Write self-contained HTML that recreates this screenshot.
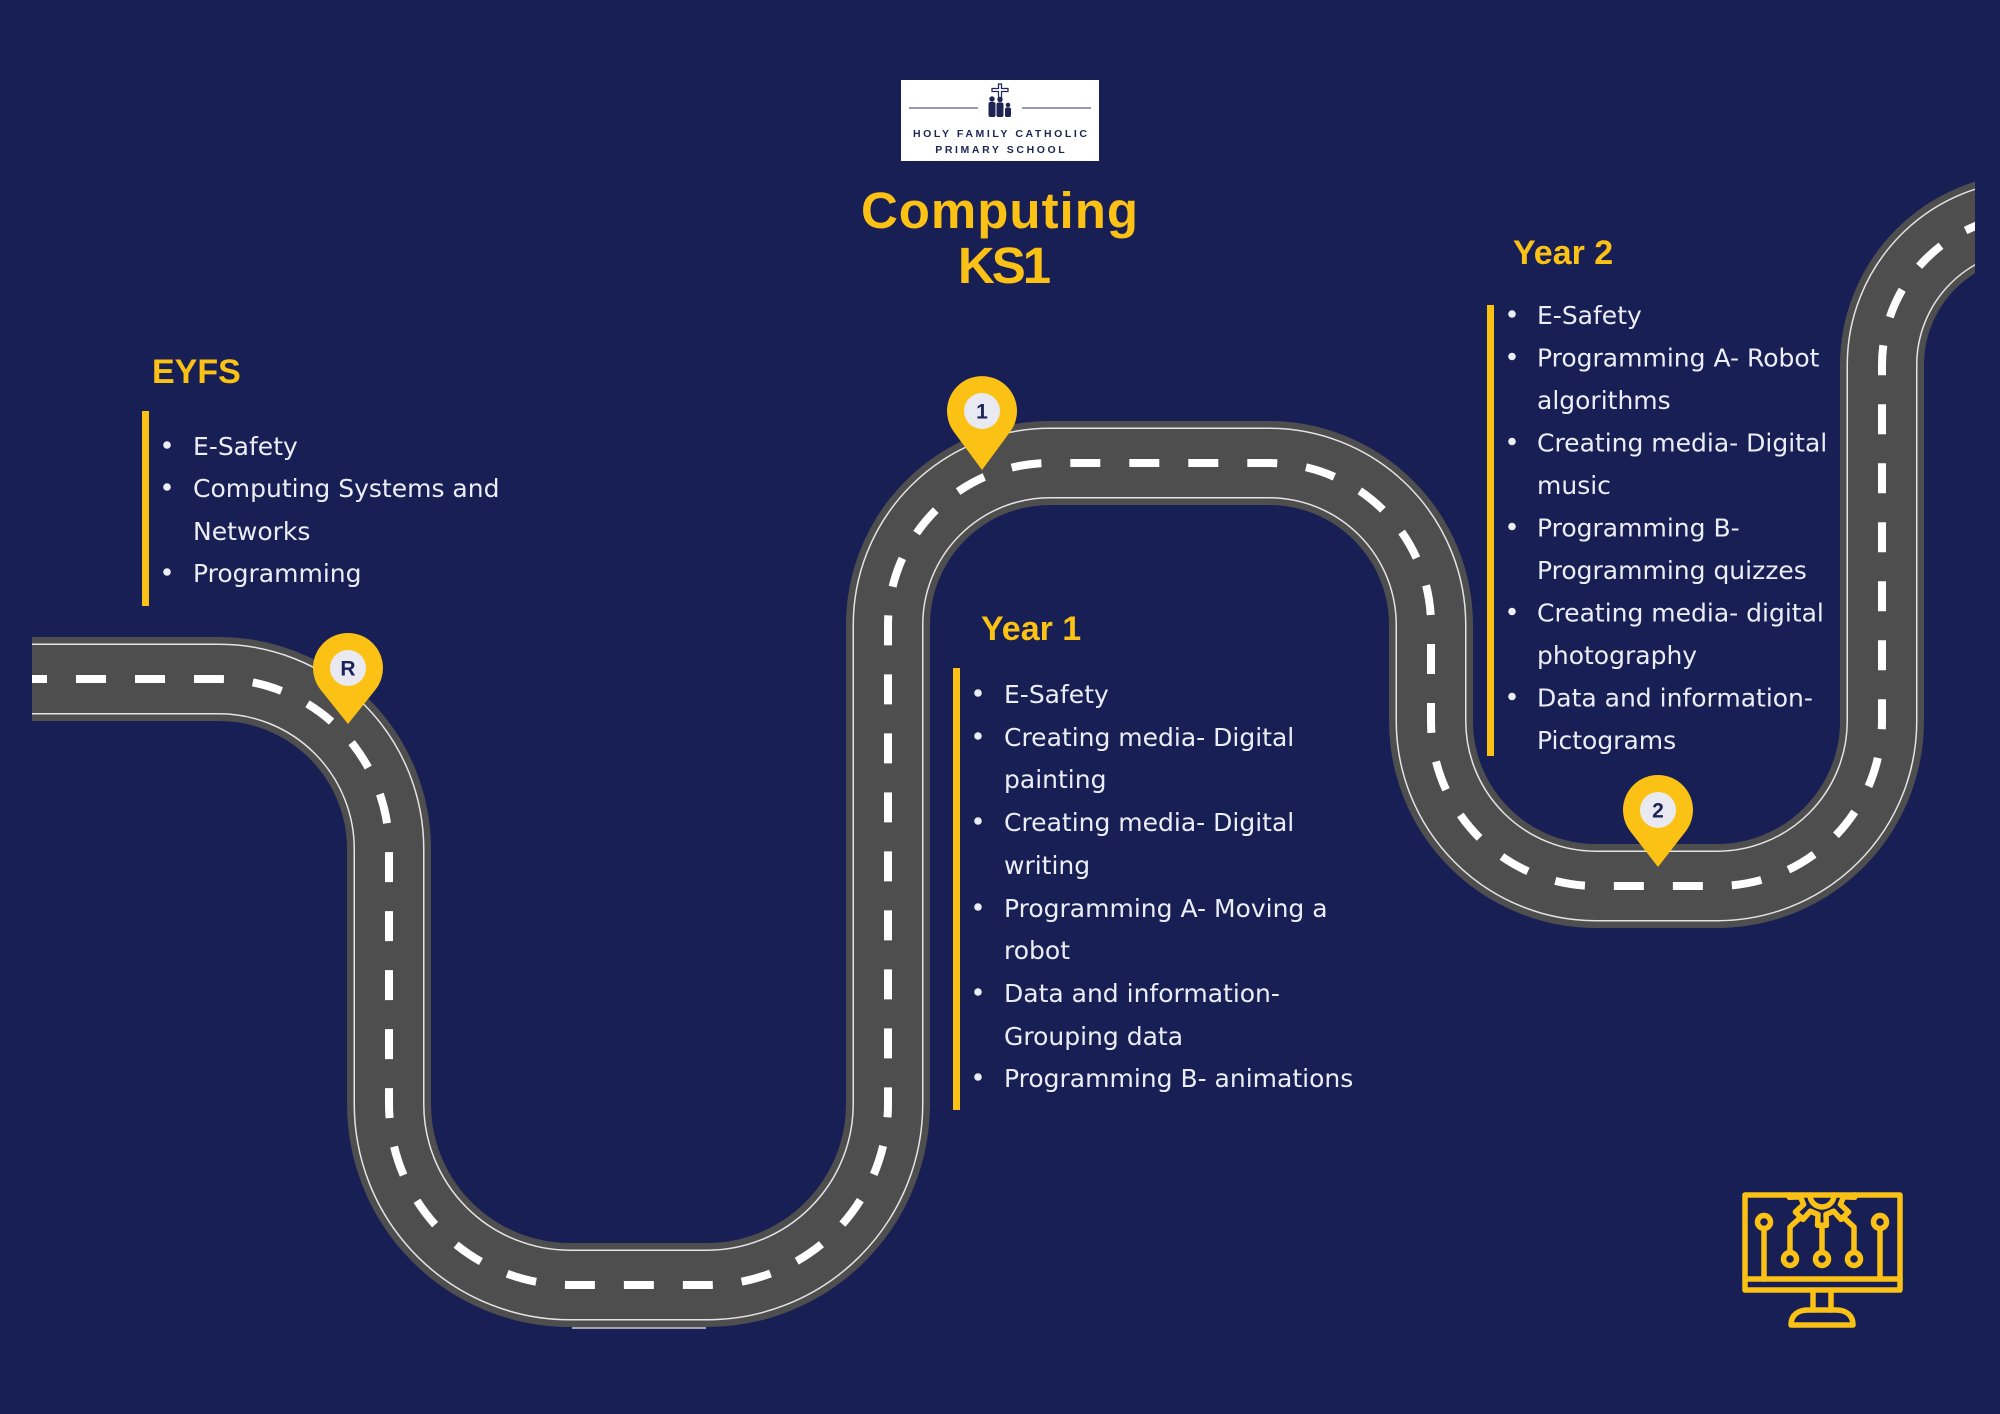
<!DOCTYPE html>
<html>
<head>
<meta charset="utf-8">
<style>
  html,body{margin:0;padding:0;background:#171f55;}
  svg{display:block;}
  .b{font-family:"DejaVu Sans","Liberation Sans",sans-serif;font-size:25px;fill:#eceef6;}
  .h{font-family:"Liberation Sans",sans-serif;font-weight:700;font-size:34px;fill:#fbc115;}
  .t{font-family:"Liberation Sans",sans-serif;font-weight:700;font-size:51px;fill:#fbc115;}
  .p{font-family:"Liberation Sans",sans-serif;font-weight:700;font-size:21px;fill:#1b2257;}
  .l{font-family:"Liberation Sans",sans-serif;font-weight:700;font-size:10.5px;fill:#1e2555;letter-spacing:2.6px;}
</style>
</head>
<body>
<svg width="2000" height="1414" viewBox="0 0 2000 1414" xmlns="http://www.w3.org/2000/svg">
  <rect width="2000" height="1414" fill="#171f55"/>
  <defs>
    <clipPath id="c"><rect x="32" y="0" width="1943" height="1414"/></clipPath>
  </defs>

  <!-- Road -->
  <g clip-path="url(#c)" fill="none">
    <path d="M 32 679 H 219 A 170 170 0 0 1 389 849 V 1104 A 181 181 0 0 0 570 1285 H 707 A 181 181 0 0 0 888 1104 V 625 A 162 162 0 0 1 1050 463 H 1269 A 162 162 0 0 1 1431 625 V 721 A 165 165 0 0 0 1596 886 H 1717 A 165 165 0 0 0 1882 721 V 365 A 150 150 0 0 1 2032 215" stroke="#4e4e4e" stroke-width="84"/>
    <path d="M 32 679 H 219 A 170 170 0 0 1 389 849 V 1104 A 181 181 0 0 0 570 1285 H 707 A 181 181 0 0 0 888 1104 V 625 A 162 162 0 0 1 1050 463 H 1269 A 162 162 0 0 1 1431 625 V 721 A 165 165 0 0 0 1596 886 H 1717 A 165 165 0 0 0 1882 721 V 365 A 150 150 0 0 1 2032 215" stroke="#e4e4e4" stroke-width="71"/>
    <path d="M 32 679 H 219 A 170 170 0 0 1 389 849 V 1104 A 181 181 0 0 0 570 1285 H 707 A 181 181 0 0 0 888 1104 V 625 A 162 162 0 0 1 1050 463 H 1269 A 162 162 0 0 1 1431 625 V 721 A 165 165 0 0 0 1596 886 H 1717 A 165 165 0 0 0 1882 721 V 365 A 150 150 0 0 1 2032 215" stroke="#4e4e4e" stroke-width="68"/>
    <path d="M 32 679 H 219 A 170 170 0 0 1 389 849 V 1104 A 181 181 0 0 0 570 1285 H 707 A 181 181 0 0 0 888 1104 V 625 A 162 162 0 0 1 1050 463 H 1269 A 162 162 0 0 1 1431 625 V 721 A 165 165 0 0 0 1596 886 H 1717 A 165 165 0 0 0 1882 721 V 365 A 150 150 0 0 1 2032 215" stroke="#ffffff" stroke-width="8" stroke-dasharray="30 29" stroke-dashoffset="15"/>
  </g>
  <line x1="572" y1="1328" x2="706" y2="1328" stroke="#cfcfcf" stroke-width="1.5"/>

  <!-- Logo -->
  <rect x="901" y="80" width="198" height="81" fill="#ffffff"/>
  <line x1="909" y1="108" x2="978" y2="108" stroke="#5a5f80" stroke-width="1.3"/>
  <line x1="1022" y1="108" x2="1091" y2="108" stroke="#5a5f80" stroke-width="1.3"/>
  <path d="M998.5 84 H1001.5 V88.5 H1008 V91.5 H1001.5 V100 H998.5 V91.5 H992 V88.5 H998.5 Z" fill="#ffffff" stroke="#1e2555" stroke-width="1.2"/>
  <circle cx="992" cy="99" r="2.7" fill="#1e2555"/>
  <rect x="988.5" y="102" width="7" height="15" rx="2" fill="#1e2555"/>
  <circle cx="1000" cy="99.5" r="2.7" fill="#1e2555"/>
  <rect x="996.5" y="102.5" width="7" height="14.5" rx="2" fill="#1e2555"/>
  <circle cx="1008" cy="105" r="2.3" fill="#1e2555"/>
  <rect x="1005" y="107.5" width="6" height="9.5" rx="1.8" fill="#1e2555"/>
  <text class="l" x="1001.3" y="137" text-anchor="middle">HOLY FAMILY CATHOLIC</text>
  <text class="l" x="1001.3" y="153" text-anchor="middle">PRIMARY SCHOOL</text>

  <!-- Title -->
  <text class="t" x="1000" y="228" text-anchor="middle" letter-spacing="1">Computing</text>
  <text class="t" x="1003" y="283" text-anchor="middle" letter-spacing="-3">KS1</text>

  <!-- EYFS -->
  <text class="h" x="152" y="383">EYFS</text>
  <rect x="142" y="411" width="7" height="195" fill="#fbc115"/>
  <circle cx="167" cy="445" r="3.8" fill="#eceef6"/>
  <circle cx="167" cy="487" r="3.8" fill="#eceef6"/>
  <circle cx="167" cy="572" r="3.8" fill="#eceef6"/>
  <text class="b" x="193" y="455">E-Safety</text>
  <text class="b" x="193" y="497">Computing Systems and</text>
  <text class="b" x="193" y="540">Networks</text>
  <text class="b" x="193" y="582">Programming</text>

  <!-- Year 1 -->
  <text class="h" x="981" y="640">Year 1</text>
  <rect x="953" y="668" width="7" height="442" fill="#fbc115"/>
  <circle cx="978" cy="693" r="3.8" fill="#eceef6"/>
  <circle cx="978" cy="736" r="3.8" fill="#eceef6"/>
  <circle cx="978" cy="821" r="3.8" fill="#eceef6"/>
  <circle cx="978" cy="907" r="3.8" fill="#eceef6"/>
  <circle cx="978" cy="992" r="3.8" fill="#eceef6"/>
  <circle cx="978" cy="1077" r="3.8" fill="#eceef6"/>
  <text class="b" x="1004" y="703">E-Safety</text>
  <text class="b" x="1004" y="746">Creating media- Digital</text>
  <text class="b" x="1004" y="788">painting</text>
  <text class="b" x="1004" y="831">Creating media- Digital</text>
  <text class="b" x="1004" y="874">writing</text>
  <text class="b" x="1004" y="917">Programming A- Moving a</text>
  <text class="b" x="1004" y="959">robot</text>
  <text class="b" x="1004" y="1002">Data and information-</text>
  <text class="b" x="1004" y="1045">Grouping data</text>
  <text class="b" x="1004" y="1087">Programming B- animations</text>

  <!-- Year 2 -->
  <text class="h" x="1513" y="264">Year 2</text>
  <rect x="1487" y="305" width="7" height="451" fill="#fbc115"/>
  <circle cx="1512" cy="314" r="3.8" fill="#eceef6"/>
  <circle cx="1512" cy="356.5" r="3.8" fill="#eceef6"/>
  <circle cx="1512" cy="441.5" r="3.8" fill="#eceef6"/>
  <circle cx="1512" cy="526.5" r="3.8" fill="#eceef6"/>
  <circle cx="1512" cy="611.5" r="3.8" fill="#eceef6"/>
  <circle cx="1512" cy="696.5" r="3.8" fill="#eceef6"/>
  <text class="b" x="1537" y="324">E-Safety</text>
  <text class="b" x="1537" y="366.5">Programming A- Robot</text>
  <text class="b" x="1537" y="409">algorithms</text>
  <text class="b" x="1537" y="451.5">Creating media- Digital</text>
  <text class="b" x="1537" y="494">music</text>
  <text class="b" x="1537" y="536.5">Programming B-</text>
  <text class="b" x="1537" y="579">Programming quizzes</text>
  <text class="b" x="1537" y="621.5">Creating media- digital</text>
  <text class="b" x="1537" y="664">photography</text>
  <text class="b" x="1537" y="706.5">Data and information-</text>
  <text class="b" x="1537" y="749">Pictograms</text>

  <!-- Pins -->
  <path d="M 348 724 L 320.7 689.9 A 35 35 0 1 1 375.3 689.9 Z" fill="#fbc115"/>
  <circle cx="348" cy="668" r="18" fill="#e9eaf1"/>
  <text class="p" x="348" y="675.5" text-anchor="middle">R</text>

  <path d="M 982 470 L 953.8 431.8 A 35 35 0 1 1 1010.2 431.8 Z" fill="#fbc115"/>
  <circle cx="982" cy="411" r="18" fill="#e9eaf1"/>
  <text class="p" x="982" y="418.5" text-anchor="middle">1</text>

  <path d="M 1658 867 L 1630.4 831.5 A 35 35 0 1 1 1685.6 831.5 Z" fill="#fbc115"/>
  <circle cx="1658" cy="810" r="18" fill="#e9eaf1"/>
  <text class="p" x="1658" y="817.5" text-anchor="middle">2</text>

  <!-- Computer icon -->
  <g fill="none" stroke="#fbc115" stroke-width="5.5" stroke-linejoin="round" stroke-linecap="round">
    <rect x="1745" y="1195" width="155" height="95"/>
    <line x1="1745" y1="1279" x2="1900" y2="1279"/>
    <path d="M1789 1195 L1789.4 1197.3 L1800.5 1196.9 L1803.6 1204.5 L1795.4 1211.9 L1803 1219.4 L1810.3 1211.2 L1818 1214.4 L1817.6 1225.3 L1826.4 1225.3 L1826 1214.4 L1833.7 1211.2 L1841 1219.4 L1848.6 1211.9 L1840.4 1204.5 L1843.5 1196.9 L1854.6 1197.3 L1855 1195"/>
    <path d="M1810 1195 A 12 12 0 0 0 1834 1195"/>
    <line x1="1822" y1="1226" x2="1822" y2="1252"/>
    <circle cx="1822" cy="1259" r="6.5"/>
    <path d="M1801 1217 L1790 1227 L1790 1252"/>
    <circle cx="1790" cy="1259" r="6.5"/>
    <path d="M1843 1217 L1854 1227 L1854 1252"/>
    <circle cx="1854" cy="1259" r="6.5"/>
    <circle cx="1764" cy="1222" r="6.5"/>
    <line x1="1764" y1="1229" x2="1764" y2="1279"/>
    <circle cx="1880" cy="1222" r="6.5"/>
    <line x1="1880" y1="1229" x2="1880" y2="1279"/>
    <line x1="1813" y1="1290" x2="1813" y2="1310"/>
    <line x1="1831" y1="1290" x2="1831" y2="1310"/>
    <path d="M1791 1325 C1791 1315 1798 1310 1808 1310 H1836 C1846 1310 1853 1315 1853 1325 Z"/>
  </g>
</svg>
</body>
</html>
